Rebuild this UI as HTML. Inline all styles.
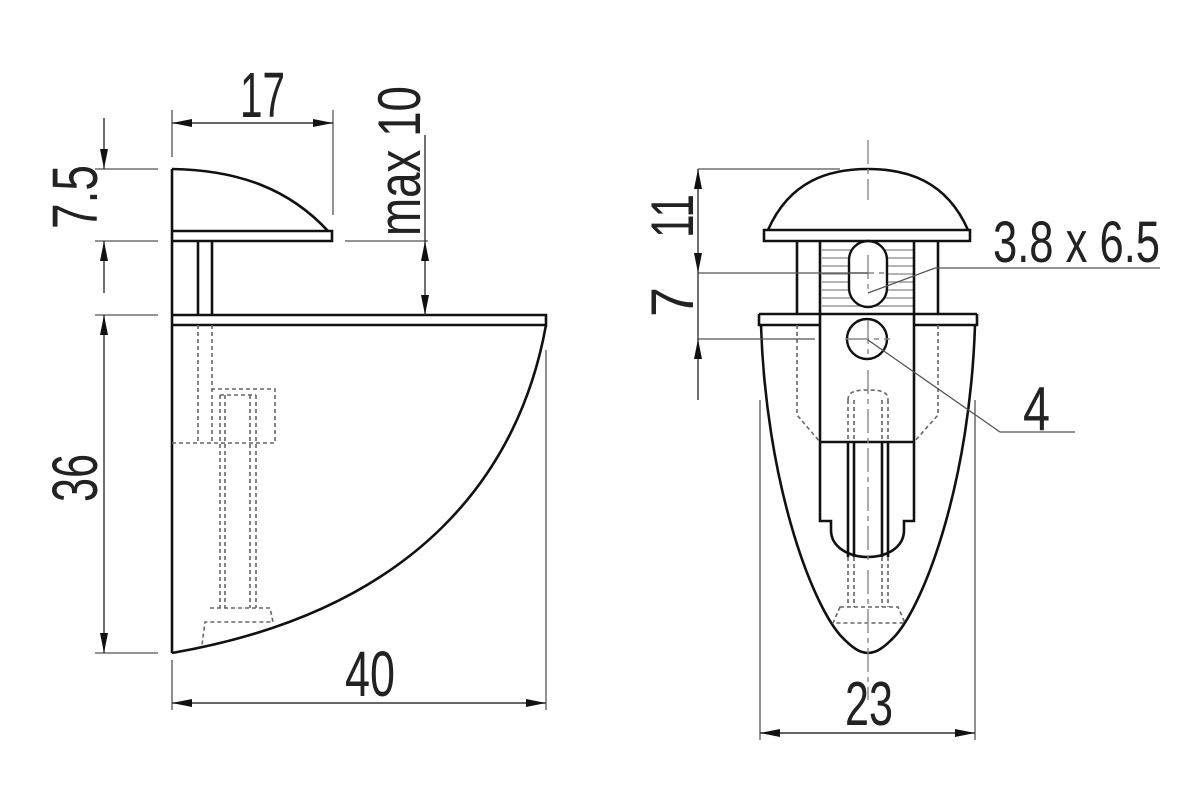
<!DOCTYPE html>
<html><head><meta charset="utf-8"><style>
html,body{margin:0;padding:0;background:#fff;}
svg{display:block;}
text{font-family:"Liberation Sans",sans-serif;fill:#222;}
</style></head><body>
<svg width="1200" height="800" viewBox="0 0 1200 800" xmlns="http://www.w3.org/2000/svg">
<defs>
<marker id="a" viewBox="0 0 20 8" refX="20" refY="4" markerWidth="20" markerHeight="8" markerUnits="userSpaceOnUse" orient="auto-start-reverse"><path d="M0,0 L20,4 L0,8 Z" fill="#111"/></marker>
</defs>
<rect width="1200" height="800" fill="#fff"/>

<!-- ===== LEFT VIEW ===== -->
<g fill="none" stroke="#111" stroke-width="2.6">
  <path d="M172,169 L172,653"/>
  <path d="M172,169 C240,170 290,190 328,231"/>
  <path d="M172,231 L332,231 L332,241 L172,241"/>
  <path d="M198,241 L198,315 M212,241 L212,315"/>
  <path d="M172,315 L546,315 L546,325 L172,325"/>
  <path d="M546,325 C520,470 420,610 172,653"/>
</g>
<g fill="none" stroke="#666" stroke-width="1.6" stroke-dasharray="4,3">
  <path d="M198,325 L198,443 M212,325 L212,443"/>
  <path d="M172,443 L275,443 L275,389 L212,389"/>
  <path d="M220,395 L220,608 M225,395 L225,608 M250,395 L250,608 M256,395 L256,608"/>
  <path d="M220,395 L256,395"/>
  <path d="M210,608 L270,608 L273,622 L205,622 L202,645"/>
</g>
<g fill="none" stroke="#555" stroke-width="1.3">
  <path d="M172,110 L172,157 M333,110 L333,215"/>
  <path d="M95,169 L158,169 M95,241 L158,241 M95,315 L158,315 M95,653 L158,653"/>
  <path d="M345,241 L428,241"/>
  <path d="M546,350 L546,710 M172,660 L172,710"/>
</g>
<g fill="none" stroke="#333" stroke-width="1.4">
  <path d="M172,123 L333,123" marker-start="url(#a)" marker-end="url(#a)"/>
  <path d="M104,118 L104,169" marker-end="url(#a)"/>
  <path d="M104,293 L104,241" marker-end="url(#a)"/>
  <path d="M104,315 L104,653" marker-start="url(#a)" marker-end="url(#a)"/>
  <path d="M425,135 L425,241"/>
  <path d="M425,241 L425,315" marker-start="url(#a)" marker-end="url(#a)"/>
  <path d="M172,703 L546,703" marker-start="url(#a)" marker-end="url(#a)"/>
</g>
<text x="240" y="117" font-size="64" textLength="45" lengthAdjust="spacingAndGlyphs">17</text>
<text x="345" y="696" font-size="64" textLength="50" lengthAdjust="spacingAndGlyphs">40</text>
<text transform="translate(97,502) rotate(-90)" font-size="64" textLength="48" lengthAdjust="spacingAndGlyphs">36</text>
<text transform="translate(97,229) rotate(-90)" font-size="64" textLength="64" lengthAdjust="spacingAndGlyphs">7.5</text>
<text transform="translate(420,236) rotate(-90)" font-size="60" textLength="150" lengthAdjust="spacingAndGlyphs">max 10</text>

<!-- ===== RIGHT VIEW ===== -->
<g fill="none" stroke="#888" stroke-width="1.2">
  <path d="M822,250 L914,250 M822,258 L914,258 M822,266 L914,266 M822,274 L914,274 M822,282 L914,282 M822,290 L914,290 M822,298 L914,298 M822,306 L914,306"/>
</g>
<rect x="849" y="241" width="38" height="66" rx="19" fill="#fff" stroke="#111" stroke-width="2.4"/>
<g fill="none" stroke="#111" stroke-width="2.6">
  <path d="M768,230 C790,180 830,169 868,169 C906,169 946,180 968,230"/>
  <path d="M764,230 L970,230 L970,241 L764,241 Z"/>
  <path d="M797,241 L797,314 M938,241 L938,314 M820,241 L820,314 M914,241 L914,314"/>
  <path d="M759,314 L977,314 M759,314 L759,325 L820,325 M914,325 L977,325 L977,314"/>
  <path d="M820,314 L820,521 L831,521 L831,530 C831,548 850,557 868,557 C886,557 904,548 904,530 L904,521 L914,521 L914,314"/>
  <path d="M820,442 L914,442"/>
  <path d="M848,442 L848,557 M854,442 L854,557 M882,442 L882,557 M888,442 L888,557"/>
  <path d="M761,325 C766,480 810,600 840,635 C852,648 860,653 868,653 C876,653 884,648 896,635 C926,600 970,480 975,325"/>
</g>
<circle cx="867" cy="339" r="20" fill="none" stroke="#111" stroke-width="2.4"/>
<g fill="none" stroke="#666" stroke-width="1.6" stroke-dasharray="4,3">
  <path d="M797,325 L797,415 L820,442 M938,325 L938,415 L914,442"/>
  <path d="M848,400 L848,442 M854,400 L854,442 M882,400 L882,442 M888,400 L888,442 M848,400 C848,392 854,390 868,390 C882,390 888,392 888,400"/>
  <path d="M848,557 L848,607 M854,557 L854,607 M882,557 L882,607 M888,557 L888,607"/>
  <path d="M840,607 L898,607 L905,623 L833,623 Z"/>
</g>
<g fill="none" stroke="#888" stroke-width="1.4">
  <path d="M868,140 L868,200 M868,255 L868,290 M850,273 L886,273 M868,320 L868,355 M845,339 L890,339 M868,370 L868,560 M868,570 L868,700" stroke-dasharray="24,5,5,5"/>
</g>
<g fill="none" stroke="#555" stroke-width="1.3">
  <path d="M698,169 L840,169 M698,273 L868,273 M698,339 L815,339"/>
  <path d="M760,400 L760,740 M975,400 L975,740"/>
  <path d="M868,293 L935,268 L1160,268"/>
  <path d="M868,340 L1000,432 L1075,432"/>
</g>
<g fill="none" stroke="#333" stroke-width="1.4">
  <path d="M698,169 L698,273" marker-start="url(#a)" marker-end="url(#a)"/>
  <path d="M698,273 L698,339"/>
  <path d="M698,400 L698,339" marker-end="url(#a)"/>
  <path d="M760,733 L975,733" marker-start="url(#a)" marker-end="url(#a)"/>
</g>
<text x="993" y="262" font-size="58" textLength="167" lengthAdjust="spacingAndGlyphs">3.8 x 6.5</text>
<text x="1023" y="430" font-size="62" textLength="27" lengthAdjust="spacingAndGlyphs">4</text>
<text x="845" y="725" font-size="62" textLength="48" lengthAdjust="spacingAndGlyphs">23</text>
<text transform="translate(693,238) rotate(-90)" font-size="60" textLength="44" lengthAdjust="spacingAndGlyphs">11</text>
<text transform="translate(693,317) rotate(-90)" font-size="60" textLength="30" lengthAdjust="spacingAndGlyphs">7</text>
</svg>
</body></html>
